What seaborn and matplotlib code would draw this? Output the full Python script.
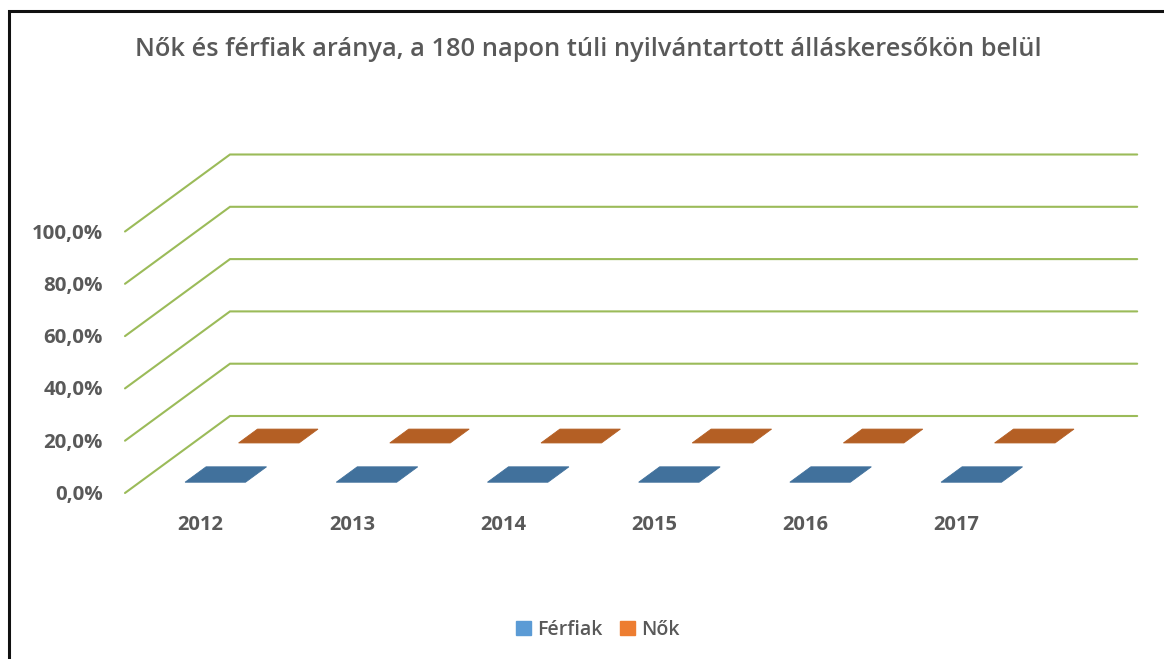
import numpy as np
import matplotlib
matplotlib.use("Agg")
import matplotlib.pyplot as plt
import seaborn as sns
from matplotlib.patches import Patch

sns.set_theme(style="white")
plt.rcParams['font.family'] = ['Open Sans', 'DejaVu Sans']

# data (all bars sit at 0 in the original chart)
years = ['2012', '2013', '2014', '2015', '2016', '2017']
ferfiak = [0.0, 0.0, 0.0, 0.0, 0.0, 0.0]
nok = [0.0, 0.0, 0.0, 0.0, 0.0, 0.0]
yticks = [0, 20, 40, 60, 80, 100]
ytick_labels = ['0,0%', '20,0%', '40,0%', '60,0%', '80,0%', '100,0%']

# oblique projection of the excel 3d column chart, in pixels
X0, Y0 = 125, 493          # front corner of the floor
SLOT = 151.2               # width of one category
PX_PER_PCT = 2.615
DEPTH_DX, DEPTH_DY = 105, -77


def proj(x, depth, val):
    return (X0 + x * SLOT + depth * DEPTH_DX,
            Y0 - val * PX_PER_PCT + depth * DEPTH_DY)


fig = plt.figure(figsize=(11.64, 6.59), dpi=100)
ax = fig.add_axes([0, 0, 1, 1])
ax.set_xlim(0, 1164)
ax.set_ylim(659, 0)
ax.axis('off')

grid_col = '#9BBB59'
text_col = '#595959'

# gridlines: diagonal on the left wall and horizontal on the back wall
for v in yticks:
    xa, ya = proj(0, 0, v)
    xb, yb = proj(0, 1, v)
    xc, yc = proj(len(years), 1, v)
    ax.plot([xa, xb, xc], [ya, yb, yc], color=grid_col, lw=1.5,
            solid_joinstyle='miter')

for v, lab in zip(yticks, ytick_labels):
    x, y = proj(0, 0, v)
    ax.text(x - 22, y + 2, lab, ha='right', va='center', fontsize=14.7,
            fontweight='bold', color=text_col)

for i, yr in enumerate(years):
    x, y = proj(i + 0.5, 0, 0)
    ax.text(x, 525, yr, ha='center', va='center', fontsize=14.5,
            fontweight='bold', color=text_col)

bar_w = 0.40
series = [
    (ferfiak, (0.14, 0.34), '#41719C', '#5B9BD5'),
    (nok, (0.65, 0.83), '#B45F24', '#ED7D31'),
]
for vals, (d0, d1), top_col, face_col in series:
    for i, v in enumerate(vals):
        xl = i + 0.5 - bar_w / 2
        xr = i + 0.5 + bar_w / 2
        # front face
        front = [proj(xl, d0, 0), proj(xr, d0, 0), proj(xr, d0, v), proj(xl, d0, v)]
        ax.fill(*zip(*front), color=face_col, lw=0)
        # side face
        side = [proj(xr, d0, 0), proj(xr, d1, 0), proj(xr, d1, v), proj(xr, d0, v)]
        ax.fill(*zip(*side), color=top_col, lw=0)
        # top face
        top = [proj(xl, d0, v), proj(xr, d0, v), proj(xr, d1, v), proj(xl, d1, v)]
        ax.fill(*zip(*top), color=top_col, lw=0.6, ec=top_col)

ax.text(588, 50, 'Nők és férfiak aránya, a 180 napon túli nyilvántartott álláskeresőkön belül',
        ha='center', va='center', fontsize=18.3, fontweight='semibold', color=text_col)

handles = [Patch(color='#5B9BD5', label='Férfiak'), Patch(color='#ED7D31', label='Nők')]
leg = fig.legend(handles=handles, loc='center', bbox_to_anchor=(598 / 1164, 1 - 630 / 659),
                 ncol=2, frameon=False, prop={'size': 14, 'weight': 'semibold'},
                 handlelength=0.75, handleheight=0.75,
                 columnspacing=0.9, handletextpad=0.35)
for t in leg.get_texts():
    t.set_color(text_col)

# outer frame (left and top edges visible in the original)
ax.plot([9, 9, 1164], [659, 11, 11], color='#111111', lw=2.2, solid_joinstyle='miter')

fig.savefig('out.png', dpi=100)
